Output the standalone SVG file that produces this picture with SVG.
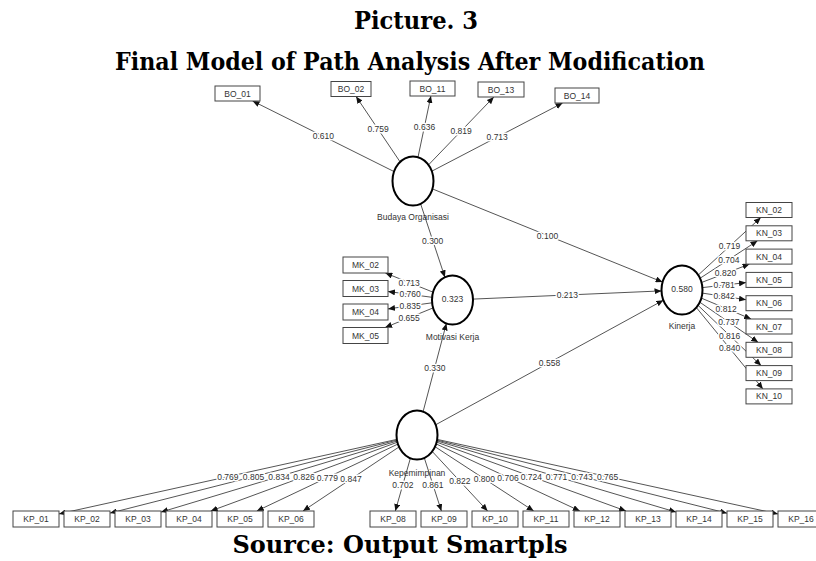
<svg xmlns="http://www.w3.org/2000/svg" width="816" height="561" viewBox="0 0 816 561">
<defs>
<marker id="arr" markerWidth="7" markerHeight="6" refX="7" refY="3" orient="auto" markerUnits="userSpaceOnUse"><path d="M0,0 L7,3 L0,6 z" fill="#111"/></marker>
<style>
.title{font-family:"DejaVu Serif","Liberation Serif",serif;font-weight:bold;font-size:24px;fill:#000;text-anchor:middle}
.t{font-family:"Liberation Sans Narrow","Liberation Sans",Arial,sans-serif;font-size:8.5px;fill:#333;text-anchor:middle;dominant-baseline:central}
.coef{paint-order:stroke;stroke:#fff;stroke-width:3px;stroke-linejoin:round}
.box{fill:#fff;stroke:#444;stroke-width:1}
.lv{fill:#fff;stroke:#000;stroke-width:2}
.ln{stroke:#555;stroke-width:1;fill:none;marker-end:url(#arr)}
</style>
</defs>
<rect width="816" height="561" fill="#fff"/>
<text class="title" x="416" y="29" textLength="124" lengthAdjust="spacingAndGlyphs">Picture. 3</text>
<text class="title" x="410" y="70" textLength="590" lengthAdjust="spacingAndGlyphs">Final Model of Path Analysis After Modification</text>
<text class="title" x="400" y="553" font-size="25">Source: Output Smartpls</text>

<g id="connectors">
<line class="ln" x1="394.1" y1="171.6" x2="252.6" y2="101"/>
<line class="ln" x1="400.1" y1="161.9" x2="356.1" y2="96.5"/>
<line class="ln" x1="418" y1="157.2" x2="430.9" y2="96"/>
<line class="ln" x1="428.5" y1="164.9" x2="493.8" y2="97"/>
<line class="ln" x1="431.8" y1="171.2" x2="562.6" y2="103"/>
<line class="ln" x1="433.1" y1="292.2" x2="385.4" y2="273"/>
<line class="ln" x1="432.1" y1="297.3" x2="388" y2="291.5"/>
<line class="ln" x1="432.1" y1="302.8" x2="388" y2="308.9"/>
<line class="ln" x1="433.1" y1="307.9" x2="385.1" y2="327.5"/>
<line class="ln" x1="698.2" y1="275.1" x2="760.8" y2="217.5"/>
<line class="ln" x1="700" y1="278.3" x2="757.5" y2="240.8"/>
<line class="ln" x1="701.5" y1="282.5" x2="749.5" y2="264.1"/>
<line class="ln" x1="702.4" y1="287.6" x2="746" y2="282.6"/>
<line class="ln" x1="702.3" y1="293.1" x2="746" y2="299.7"/>
<line class="ln" x1="701.3" y1="298.1" x2="751.1" y2="319"/>
<line class="ln" x1="699.8" y1="302.2" x2="758.1" y2="342.3"/>
<line class="ln" x1="698" y1="305.3" x2="761.1" y2="365.6"/>
<line class="ln" x1="696.3" y1="307.5" x2="762.9" y2="388.9"/>
<line class="ln" x1="396.8" y1="439.4" x2="59" y2="513.9"/>
<line class="ln" x1="396.9" y1="440.1" x2="110" y2="513.1"/>
<line class="ln" x1="397.1" y1="441" x2="161" y2="512.1"/>
<line class="ln" x1="397.4" y1="442.2" x2="210.7" y2="511"/>
<line class="ln" x1="398" y1="444" x2="256.8" y2="511"/>
<line class="ln" x1="399.1" y1="446.9" x2="303" y2="511"/>
<line class="ln" x1="410.4" y1="458.2" x2="395.3" y2="511"/>
<line class="ln" x1="424.3" y1="457.9" x2="441.4" y2="511"/>
<line class="ln" x1="432.2" y1="451.4" x2="487.6" y2="511"/>
<line class="ln" x1="435" y1="446.7" x2="533.7" y2="511"/>
<line class="ln" x1="436.1" y1="443.9" x2="579.9" y2="511"/>
<line class="ln" x1="436.6" y1="442.1" x2="626" y2="511"/>
<line class="ln" x1="436.9" y1="440.9" x2="676" y2="512.1"/>
<line class="ln" x1="437" y1="440.1" x2="727" y2="513.2"/>
<line class="ln" x1="437.2" y1="439.4" x2="778" y2="514"/>
<line class="ln" x1="420.6" y1="203.8" x2="444.9" y2="277.2"/>
<line class="ln" x1="432.4" y1="188.9" x2="662.6" y2="282.1"/>
<line class="ln" x1="473" y1="299.1" x2="661.5" y2="290.9"/>
<line class="ln" x1="435.6" y1="424.8" x2="663.4" y2="300.2"/>
<line class="ln" x1="423.1" y1="411.6" x2="446.4" y2="323.4"/>
<g class="t coef">
<text x="323.3" y="136.3">0.610</text>
<text x="378.1" y="129.2">0.759</text>
<text x="424.5" y="126.6">0.636</text>
<text x="461.1" y="131">0.819</text>
<text x="497.2" y="137.1">0.713</text>
<text x="409.2" y="282.6">0.713</text>
<text x="410.1" y="294.4">0.760</text>
<text x="410.1" y="305.9">0.835</text>
<text x="409.1" y="317.7">0.655</text>
<text x="729.5" y="246.3">0.719</text>
<text x="728.8" y="259.6">0.704</text>
<text x="725.5" y="273.3">0.820</text>
<text x="724.2" y="285.1">0.781</text>
<text x="724.2" y="296.4">0.842</text>
<text x="726.2" y="308.6">0.812</text>
<text x="728.9" y="322.3">0.737</text>
<text x="729.6" y="335.5">0.816</text>
<text x="729.6" y="348.2">0.840</text>
<text x="227.9" y="476.7">0.769</text>
<text x="253.5" y="476.6">0.805</text>
<text x="279" y="476.5">0.834</text>
<text x="304" y="476.6">0.826</text>
<text x="327.4" y="477.5">0.779</text>
<text x="351" y="479">0.847</text>
<text x="402.8" y="484.6">0.702</text>
<text x="432.9" y="484.5">0.861</text>
<text x="459.9" y="481.2">0.822</text>
<text x="484.4" y="478.9">0.800</text>
<text x="508" y="477.5">0.706</text>
<text x="531.3" y="476.6">0.724</text>
<text x="556.5" y="476.5">0.771</text>
<text x="582" y="476.7">0.743</text>
<text x="607.6" y="476.7">0.765</text>
<text x="432.7" y="240.5">0.300</text>
<text x="547.5" y="235.5">0.100</text>
<text x="567.3" y="295">0.213</text>
<text x="549.5" y="362.5">0.558</text>
<text x="434.8" y="367.5">0.330</text>
</g>
</g>

<g id="budaya-organisasi">
<ellipse class="lv" cx="413" cy="181" rx="20.5" ry="24.5"/>
<text class="t" x="413" y="217">Budaya Organisasi</text>
</g>
<g id="motivasi-kerja">
<ellipse class="lv" cx="452.5" cy="300" rx="20.5" ry="24.5"/>
<text class="t" x="452.5" y="299">0.323</text>
<text class="t" x="452.5" y="337">Motivasi Kerja</text>
</g>
<g id="kinerja">
<ellipse class="lv" cx="682" cy="290" rx="20.5" ry="24.5"/>
<text class="t" x="682" y="289">0.580</text>
<text class="t" x="682" y="326">Kinerja</text>
</g>
<g id="kepemimpinan">
<ellipse class="lv" cx="417" cy="435" rx="20.5" ry="24.5"/>
<text class="t" x="417" y="473">Kepemimpinan</text>
</g>

<g id="BO_01"><rect class="box" x="215" y="86" width="45" height="15"/><text class="t" x="237.5" y="93.5">BO_01</text></g>
<g id="BO_02"><rect class="box" x="331" y="81.5" width="40" height="15"/><text class="t" x="351" y="89">BO_02</text></g>
<g id="BO_11"><rect class="box" x="410" y="81" width="45" height="15"/><text class="t" x="432.5" y="88.5">BO_11</text></g>
<g id="BO_13"><rect class="box" x="478" y="82" width="46" height="15"/><text class="t" x="501" y="89.5">BO_13</text></g>
<g id="BO_14"><rect class="box" x="555" y="88" width="44" height="15"/><text class="t" x="577" y="95.5">BO_14</text></g>

<g id="MK_02"><rect class="box" x="343" y="257" width="45" height="16"/><text class="t" x="365.5" y="265">MK_02</text></g>
<g id="MK_03"><rect class="box" x="343" y="280.5" width="45" height="16"/><text class="t" x="365.5" y="288.5">MK_03</text></g>
<g id="MK_04"><rect class="box" x="343" y="304" width="45" height="16"/><text class="t" x="365.5" y="312">MK_04</text></g>
<g id="MK_05"><rect class="box" x="343" y="327.5" width="45" height="16"/><text class="t" x="365.5" y="335.5">MK_05</text></g>

<g id="KN_02"><rect class="box" x="746" y="202.5" width="46" height="15"/><text class="t" x="769" y="210">KN_02</text></g>
<g id="KN_03"><rect class="box" x="746" y="225.8" width="46" height="15"/><text class="t" x="769" y="233.3">KN_03</text></g>
<g id="KN_04"><rect class="box" x="746" y="249.1" width="46" height="15"/><text class="t" x="769" y="256.6">KN_04</text></g>
<g id="KN_05"><rect class="box" x="746" y="272.4" width="46" height="15"/><text class="t" x="769" y="279.9">KN_05</text></g>
<g id="KN_06"><rect class="box" x="746" y="295.7" width="46" height="15"/><text class="t" x="769" y="303.2">KN_06</text></g>
<g id="KN_07"><rect class="box" x="746" y="319" width="46" height="15"/><text class="t" x="769" y="326.5">KN_07</text></g>
<g id="KN_08"><rect class="box" x="746" y="342.3" width="46" height="15"/><text class="t" x="769" y="349.8">KN_08</text></g>
<g id="KN_09"><rect class="box" x="746" y="365.6" width="46" height="15"/><text class="t" x="769" y="373.1">KN_09</text></g>
<g id="KN_10"><rect class="box" x="746" y="388.9" width="46" height="15"/><text class="t" x="769" y="396.4">KN_10</text></g>

<g id="KP_01"><rect class="box" x="13" y="511" width="46" height="16"/><text class="t" x="36" y="519">KP_01</text></g>
<g id="KP_02"><rect class="box" x="64" y="511" width="46" height="16"/><text class="t" x="87" y="519">KP_02</text></g>
<g id="KP_03"><rect class="box" x="115" y="511" width="46" height="16"/><text class="t" x="138" y="519">KP_03</text></g>
<g id="KP_04"><rect class="box" x="166" y="511" width="46" height="16"/><text class="t" x="189" y="519">KP_04</text></g>
<g id="KP_05"><rect class="box" x="217" y="511" width="46" height="16"/><text class="t" x="240" y="519">KP_05</text></g>
<g id="KP_06"><rect class="box" x="268" y="511" width="46" height="16"/><text class="t" x="291" y="519">KP_06</text></g>
<g id="KP_08"><rect class="box" x="370" y="511" width="46" height="16"/><text class="t" x="393" y="519">KP_08</text></g>
<g id="KP_09"><rect class="box" x="421" y="511" width="46" height="16"/><text class="t" x="444" y="519">KP_09</text></g>
<g id="KP_10"><rect class="box" x="472" y="511" width="46" height="16"/><text class="t" x="495" y="519">KP_10</text></g>
<g id="KP_11"><rect class="box" x="523" y="511" width="46" height="16"/><text class="t" x="546" y="519">KP_11</text></g>
<g id="KP_12"><rect class="box" x="574" y="511" width="46" height="16"/><text class="t" x="597" y="519">KP_12</text></g>
<g id="KP_13"><rect class="box" x="625" y="511" width="46" height="16"/><text class="t" x="648" y="519">KP_13</text></g>
<g id="KP_14"><rect class="box" x="676" y="511" width="46" height="16"/><text class="t" x="699" y="519">KP_14</text></g>
<g id="KP_15"><rect class="box" x="727" y="511" width="46" height="16"/><text class="t" x="750" y="519">KP_15</text></g>
<g id="KP_16"><rect class="box" x="778" y="511" width="46" height="16"/><text class="t" x="801" y="519">KP_16</text></g>
</svg>
